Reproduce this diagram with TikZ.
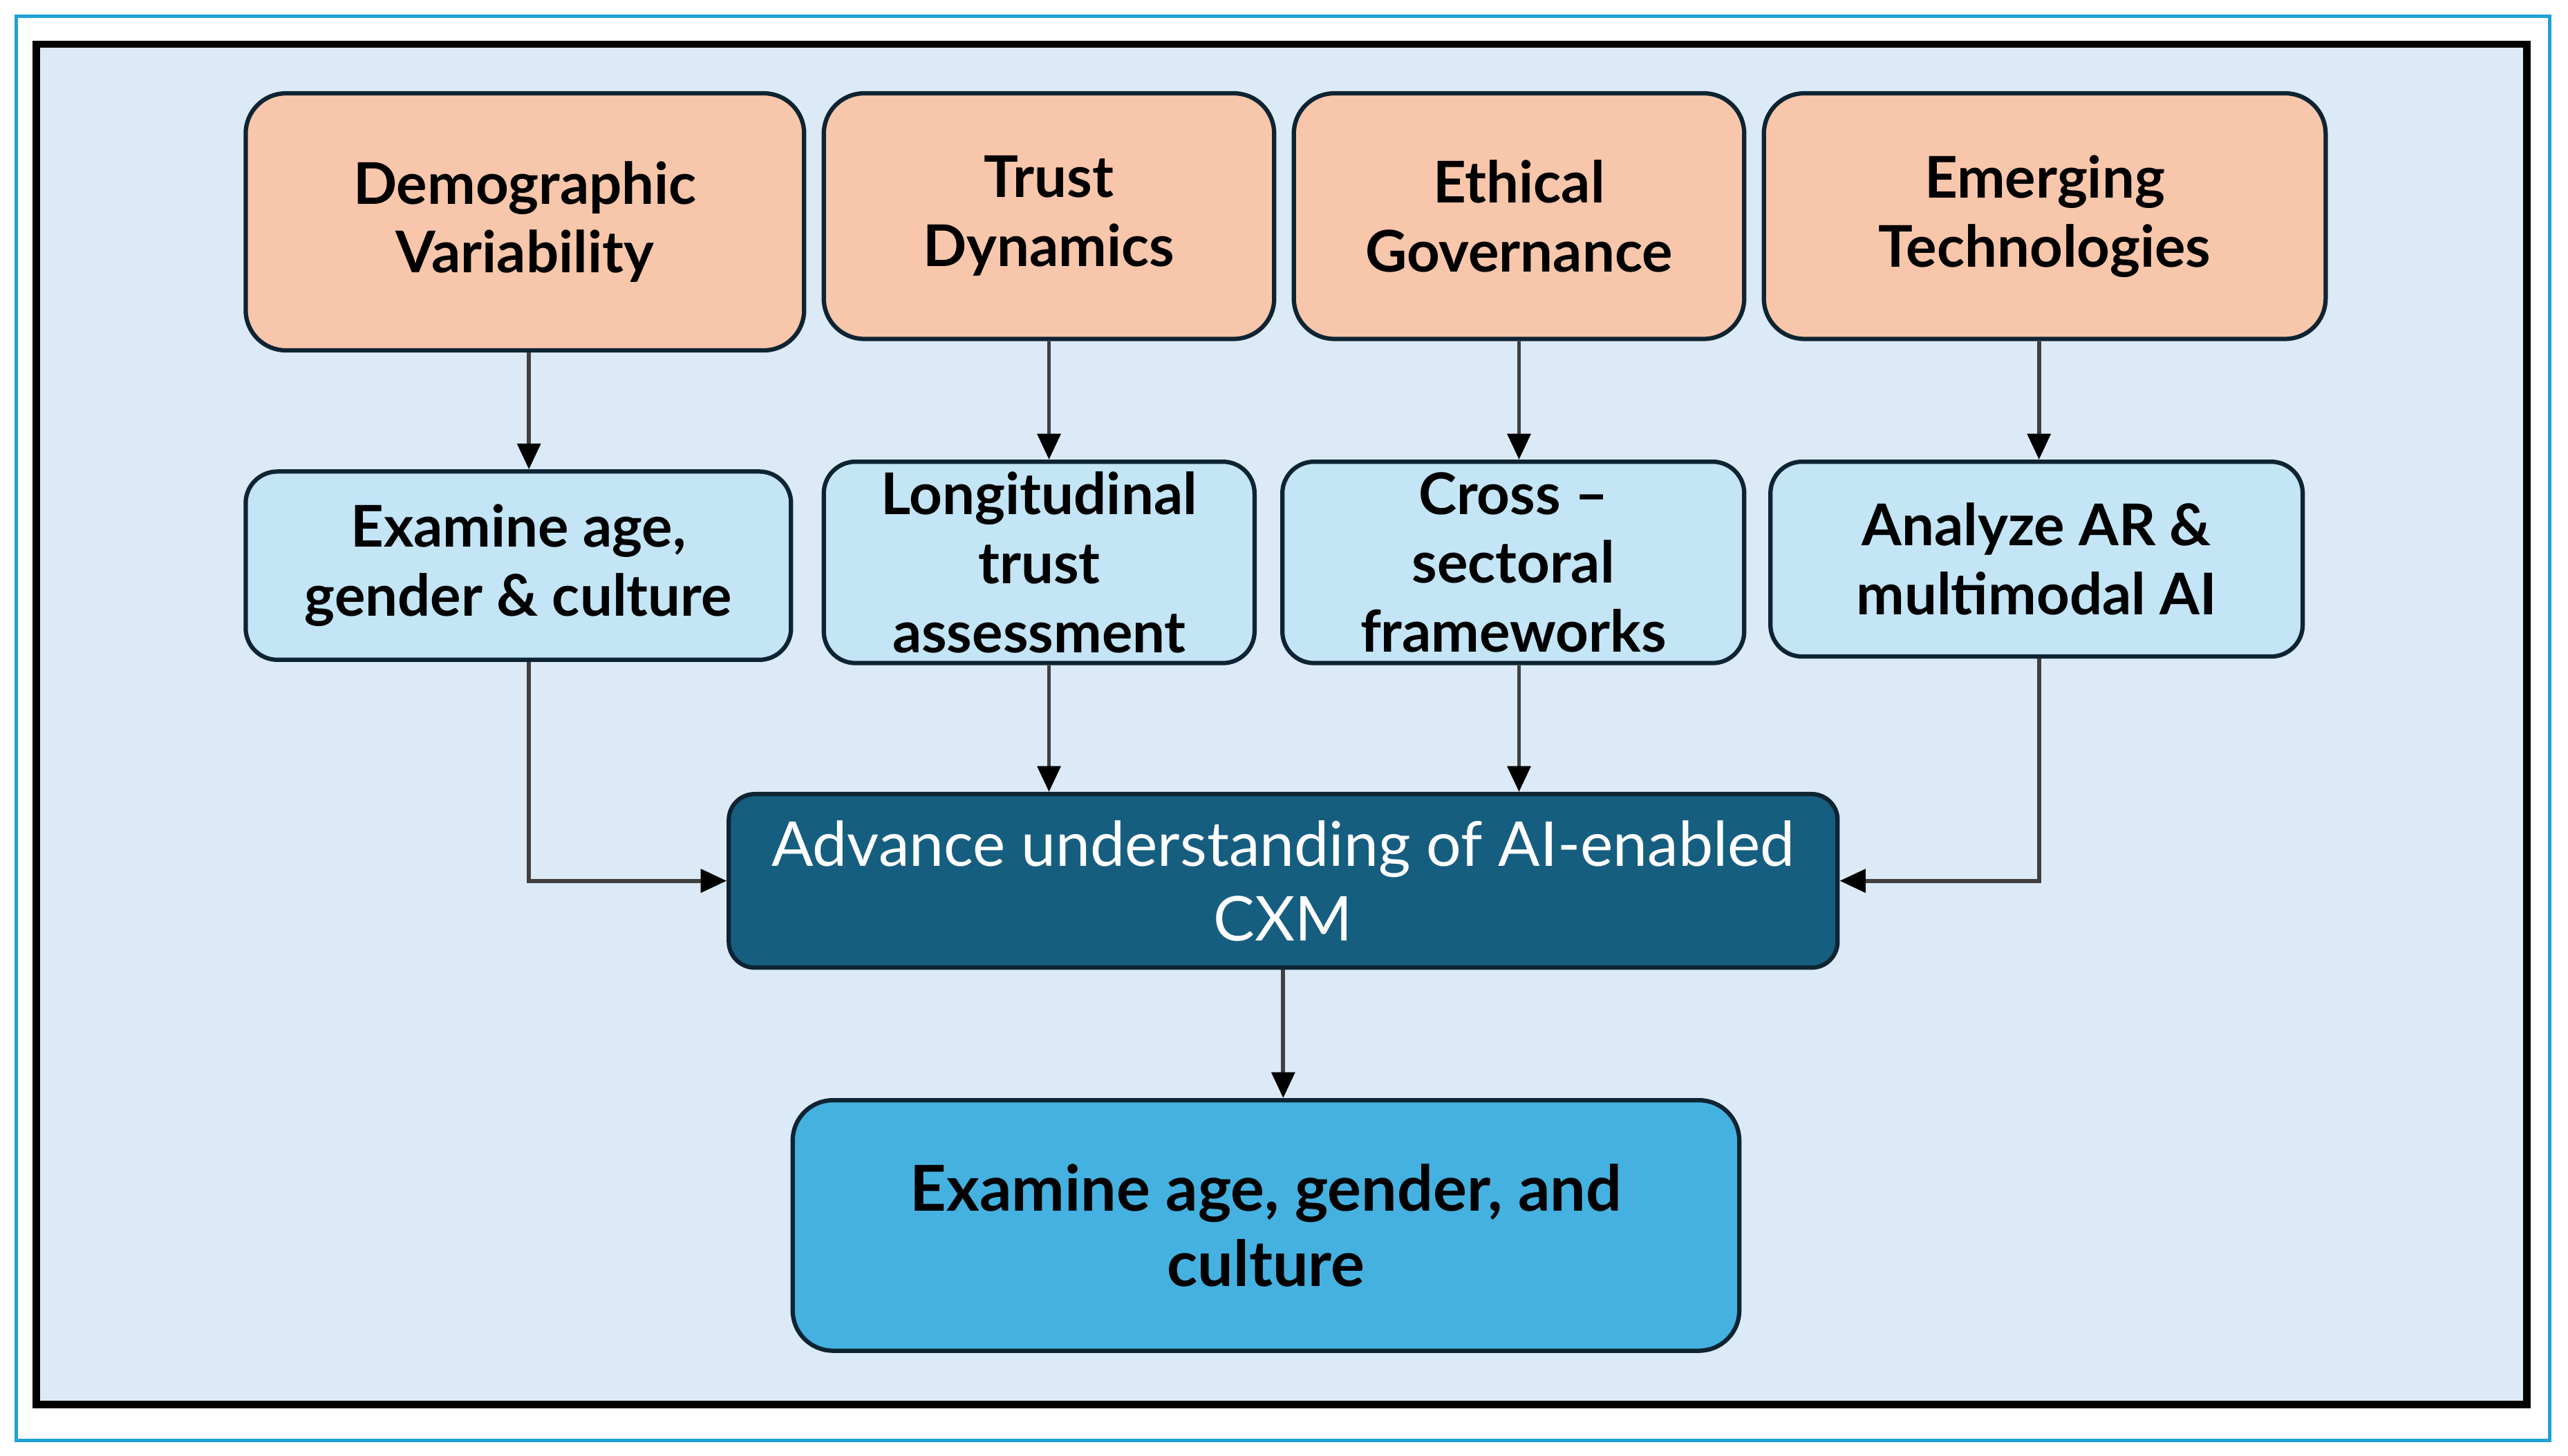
\documentclass[tikz,border=0pt]{standalone}
\usepackage{fontspec}
\setmainfont{Lato}
\usetikzlibrary{arrows.meta}

\definecolor{panelbg}{RGB}{220,234,247}
\definecolor{framecyan}{RGB}{31,160,216}
\definecolor{peach}{RGB}{248,198,171}
\definecolor{paleblue}{RGB}{195,229,246}
\definecolor{deepteal}{RGB}{22,94,128}
\definecolor{skyblue}{RGB}{69,177,224}
\definecolor{boxline}{RGB}{14,36,51}
\definecolor{arrowgray}{RGB}{64,64,64}

\tikzset{
  topbox/.style = {draw=boxline, line width=1.5pt, fill=peach, rounded corners=14pt,
    align=center, font=\fontsize{20}{24}\selectfont\bfseries, inner sep=0pt},
  midbox/.style = {draw=boxline, line width=1.5pt, fill=paleblue, rounded corners=11pt,
    align=center, font=\fontsize{20}{24}\selectfont\bfseries, inner sep=0pt},
  arr/.style = {draw=arrowgray, line width=1.4pt, -{Triangle[length=9pt,width=8pt,color=black]}}
}

\begin{document}
\begin{tikzpicture}
    [x=0.02cm, y=-0.02cm]
    % canvas and frames
    \fill[white] (0,0) rectangle (1568,889);
    \useasboundingbox (0,0) rectangle (1568,889);
    \draw[framecyan, line width=1.2pt] (10,10) rectangle (1557,880);
    \draw[black, line width=2.6pt, fill=panelbg] (22,27) rectangle (1543,858);

    % first row
    \node[topbox, minimum width=341*0.02cm, minimum height=157*0.02cm] (demo) at (320.5,135.5) {Demographic\\Variability};
    \node[topbox, minimum width=275*0.02cm, minimum height=150*0.02cm] (trust) at (640.5,132) {Trust\\Dynamics};
    \node[topbox, minimum width=275*0.02cm, minimum height=150*0.02cm] (ethic) at (927.5,132) {Ethical\\Governance};
    \node[topbox, minimum width=343*0.02cm, minimum height=150*0.02cm] (emerg) at (1248.5,132) {Emerging\\Technologies};

    % second row
    \node[midbox, minimum width=333*0.02cm, minimum height=115*0.02cm] (agegc) at (316.5,345.5) {Examine age,\\gender \& culture};
    \node[midbox, minimum width=263*0.02cm, minimum height=123*0.02cm] (longi) at (634.5,343.5) {Longitudinal\\trust\\assessment};
    \node[midbox, minimum width=282*0.02cm, minimum height=123*0.02cm] (cross) at (924,343.5) {Cross –\\sectoral\\frameworks};
    \node[midbox, minimum width=325*0.02cm, minimum height=119*0.02cm] (arai) at (1243.5,341.5) {Analyze AR \&\\multimodal AI};

    % centre and bottom
    \node[draw=boxline, line width=1.5pt, fill=deepteal, rounded corners=9pt, text=white, align=center,
      font=\fontsize{21.5}{26}\selectfont, inner sep=0pt,
      minimum width=677*0.02cm, minimum height=106*0.02cm] (cxm) at (783.5,538) {Advance understanding of AI-enabled\\CXM};
    \node[draw=boxline, line width=1.5pt, fill=skyblue, rounded corners=14pt, align=center,
      font=\fontsize{22}{26}\selectfont\bfseries, inner sep=0pt,
      minimum width=578*0.02cm, minimum height=153*0.02cm] (final) at (773,748.5) {Examine age, gender, and\\culture};

    % connectors
    \foreach \from/\to/\dx in {demo/agegc/1.4pt,trust/longi/0pt,ethic/cross/0pt,emerg/arai/-2pt}
      \draw[arr] ([xshift=\dx]\from.south) -- ([xshift=\dx]\from.south |- \to.north);
    \foreach \col/\row in {trust/longi,ethic/cross}
      \draw[arr] (\col.south |- \row.south) -- (\col.south |- cxm.north);
    \draw[arr] ([xshift=1.4pt]demo.south |- agegc.south) |- (cxm.west);
    \draw[arr] ([xshift=-2pt]emerg.south |- arai.south) |- (cxm.east);
    \draw[arr] (cxm.south) -- (cxm.south |- final.north);
  \end{tikzpicture}
\end{document}
